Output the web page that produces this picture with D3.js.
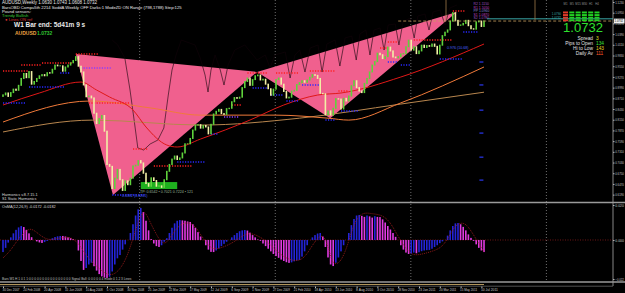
<!DOCTYPE html>
<html lang="en">
<head>
<meta charset="UTF-8">
<script src="https://d3js.org/d3.v7.min.js"></script>
<style>
  body { margin: 0; background: #000; overflow: hidden; }
  text { font-family: Arial, "Liberation Sans", sans-serif; }
</style>
</head>
<body>
<svg id="chart" width="625" height="293"></svg>
<script>
// AUDUSD weekly, values
const startWeek = new Date(2007, 11, 30);
const firstOpen = 0.8760;
const closes = [
  0.8800, 0.8850, 0.8760, 0.8860, 0.8950, 0.8920, 0.9050, 0.9230, 0.9360, 0.9250,
  0.9410, 0.9080, 0.9150, 0.9230, 0.9300, 0.9330, 0.9300, 0.9380, 0.9370, 0.9470,
  0.9580, 0.9560, 0.9560, 0.9420, 0.9530, 0.9580, 0.9640, 0.9700, 0.9800, 0.9550,
  0.9400, 0.9060, 0.8750, 0.8770, 0.8720, 0.8320, 0.8050, 0.8180, 0.8260, 0.7850,
  0.6980, 0.6930, 0.6350, 0.6620, 0.6850, 0.6580, 0.6300, 0.6550, 0.6450, 0.6620,
  0.6940, 0.6960, 0.7080, 0.7020, 0.6750, 0.6480, 0.6410, 0.6630, 0.6560, 0.6410,
  0.6420, 0.6380, 0.6580, 0.6800, 0.6980, 0.7120, 0.7200, 0.7110, 0.7150, 0.7280,
  0.7520, 0.7520, 0.7660, 0.7880, 0.8010, 0.8020, 0.7930, 0.8000, 0.7960, 0.7780,
  0.8030, 0.8300, 0.8370, 0.8420, 0.8310, 0.8290, 0.8440, 0.8450, 0.8620, 0.8730,
  0.8710, 0.8740, 0.8990, 0.9150, 0.9240, 0.9050, 0.9200, 0.9300, 0.9320, 0.9190,
  0.9210, 0.9080, 0.8960, 0.8790, 0.8950, 0.9200, 0.9240, 0.9080, 0.8890, 0.8720,
  0.8740, 0.8900, 0.8920, 0.9070, 0.9120, 0.9170, 0.9130, 0.9190, 0.9260, 0.9330,
  0.9310, 0.9230, 0.8840, 0.8830, 0.8280, 0.8380, 0.8270, 0.8450, 0.8700, 0.8690,
  0.8430, 0.8710, 0.8640, 0.8770, 0.9040, 0.9170, 0.8990, 0.8900, 0.8860, 0.9100,
  0.9230, 0.9400, 0.9580, 0.9670, 0.9890, 0.9850, 0.9750, 0.9800, 1.0050, 0.9950,
  0.9790, 0.9770, 0.9800, 0.9870, 0.9880, 1.0060, 1.0230, 0.9970, 1.0060, 0.9880,
  0.9950, 1.0100, 1.0040, 1.0090, 1.0070, 1.0130, 1.0070, 0.9870, 1.0100, 1.0350,
  1.0440, 1.0500, 1.0730, 1.0950, 1.0750, 1.0620, 1.0630, 1.0670, 1.0750, 1.0610,
  1.0530, 1.0520, 1.0710, 1.0730, 1.0590, 1.0732
];

// OsMA histogram, in pips (1e-4)
const osma = [
  -69, -45, -15, 15, 38, 58, 72, 80, 74, 58,
  38, 16, 0, -8, -14, -17, -12, -5, 2, 10,
  17, 21, 23, 23, 20, 15, 10, 5, 0, -60,
  -120, -171, -160, -140, -130, -150, -175, -195, -208, -215,
  -217, -210, -180, -140, -105, -86, -55, -25, 0, 40,
  90, 140, 175, 183, 160, 110, 55, 5, -20, -35,
  -40, -30, -10, 10, 40, 70, 95, 110, 114, 112,
  110, 106, 103, 90, 70, 45, 20, 0, -30, -55,
  -68, -69, -60, -48, -35, -22, -10, 0, 15, 28,
  40, 50, 55, 57, 54, 42, 28, 15, 3, -5,
  -20, -35, -50, -65, -80, -92, -102, -112, -120, -127,
  -131, -128, -122, -117, -114, -95, -65, -30, 0, 15,
  28, 37, 40, 20, -40, -100, -140, -149, -130, -100,
  -65, -30, 0, 40, 85, 120, 140, 143, 138, 132,
  140, 135, 128, 136, 132, 131, 118, 100, 80, 60,
  40, 18, 0, -30, -55, -72, -80, -78, -72, -76,
  -70, -64, -60, -58, -57, -50, -40, -30, -18, -8,
  0, 25, 55, 80, 95, 97, 90, 75, 55, 32,
  12, -5, -25, -45, -60, -69
];

// signal line [week, pips]
const signalPts = [
  [0, -103], [3, -60], [6, 10], [9, 55], [11, 68], [14, 30], [17, 0], [20, 5], [24, 18], [27, 12],
  [30, -40], [33, -110], [36, -150], [39, -190], [42, -205], [45, -170], [48, -90], [51, 60], [54, 185],
  [56, 120], [59, 29], [62, -40], [65, 30], [68, 90], [71, 103], [74, 80], [76, 29], [79, -30], [81, -57],
  [85, -40], [89, -11], [93, 35], [96, 40], [101, 0], [105, -60], [109, -109], [114, -126], [117, -80],
  [119, -29], [122, 30], [124, 15], [126, -90], [127, -143], [130, -131], [133, -10], [135, 97], [138, 160],
  [142, 150], [146, 143], [149, 100], [151, 46], [154, -30], [157, -86], [160, -85], [163, -74], [166, -60],
  [169, -40], [172, 30], [174, 86], [177, 103], [179, 75], [181, 29], [183, -20], [185, -69]
];

// moving averages [week, price]
const redMA = [[0, 0.8535], [14, 0.8849], [30, 0.9136], [36, 0.8927], [41, 0.8744], [50, 0.8404], [55, 0.7959],
  [63, 0.7488], [67, 0.7436], [76, 0.7645], [95, 0.8142], [108, 0.8535], [121, 0.8796], [130, 0.8849], [153, 0.9267], [185, 1.0131]];
const orangeMA = [[0, 0.809], [33.5, 0.864], [56.5, 0.846], [76, 0.827], [105, 0.827], [125, 0.819], [133, 0.814], [153, 0.859], [185, 0.953]];
const tanMA = [[0, 0.783], [34.6, 0.814], [76, 0.801], [114, 0.819], [153, 0.856], [185, 0.887]];

// harmonic patterns, vertices [week, price]
const patterns = [
  [[28, 0.987], [42.3, 0.618], [97.7, 0.940]],
  [[97.7, 0.940], [125.8, 0.819], [174.6, 1.097]]
];

// dark oscillator line, only visible over the patterns [week, price]
const darkLine = [
  [42, 1.0236], [44.2, 1.0105], [46.9, 0.9765], [48.8, 0.8927], [50.4, 0.8142], [51.9, 0.7409], [54.2, 0.7357],
  [56.5, 0.7514], [59.6, 0.7619], [61.9, 0.7933], [63.5, 0.8796], [65, 0.9450], [66.5, 0.9843], [68.5, 1.0236],
  [73.8, 1.0105], [75.8, 0.9765], [77.7, 0.9320], [78.8, 0.8875], [80, 0.9450], [81.5, 0.9843], [83.5, 0.9450],
  [85, 0.9058], [86.5, 0.9581], [89.2, 0.9974], [93, 1.0105], [97.7, 0.9712], [100.8, 0.9843], [102.7, 0.9503],
  [104.6, 0.9843], [108.5, 0.9922], [110.4, 0.9241], [112.3, 0.9843], [114.2, 0.9974], [116.2, 0.9398],
  [118.1, 1.0026], [121.2, 1.0105], [122.7, 0.9398], [124.6, 1.0131], [127.7, 1.0236], [129.6, 0.9555],
  [131.5, 1.0288], [134.2, 1.0340], [135.8, 0.9712], [137.3, 1.0393], [139.6, 1.0497], [141.2, 0.9843],
  [142.7, 1.0497], [145, 1.0550], [146.5, 0.9974], [148.1, 1.0628], [150.8, 1.0654], [152.3, 1.0105],
  [153.8, 1.0707], [156.5, 1.0811], [158.1, 1.0288], [159.6, 1.0864], [162.3, 1.0916], [163.8, 1.0497],
  [165.4, 1.0968], [168.1, 1.1021], [170, 1.0628], [171.9, 1.1073], [174.6, 1.1151]
];

// dotted levels [fromWeek, toWeek, price]
const resistLevels = [[0, 10, 0.9424], [7, 15, 0.9581], [15, 27, 0.9634], [28, 37, 0.9869], [33, 49, 0.8587],
  [50, 56, 0.7383], [58, 73, 0.6938], [88, 92, 0.8534], [94, 102, 0.9372], [105, 114, 0.9372],
  [118, 128, 0.9424], [129, 133, 0.8901], [145, 148, 1.0026], [148, 152, 1.0183], [158, 173, 1.0235], [173, 178, 1.0994]];
const supportLevels = [[0, 9, 0.8587], [10, 24, 0.9005], [22, 26, 0.9372], [42, 55, 0.6179], [67, 78, 0.7043],
  [80, 83, 0.7775], [96, 102, 0.8979], [103, 108, 0.8796], [109, 114, 0.8639], [115, 122, 0.9058],
  [124, 128, 0.8142], [130, 137, 0.8377], [148, 152, 0.9660], [153, 157, 0.9581], [168, 177, 0.9738], [177, 183, 1.0445]];
const violetLevels = [[30, 42, 0.9503], [85, 91, 0.8220]];
const fibMarks = [0.966, 0.906, 0.840, 0.780, 0.717, 0.657];
const pivotTags = [["R2", 1.1150], ["R1", 1.1050], ["PP", 1.0960], ["S1", 1.0870], ["S2", 1.0780]];
const targetZone = { from: 53, to: 67, hi: 0.6519, lo: 0.6336 };

const priceTicks = [1.1230, 1.0950, 1.0670, 1.0390, 1.0110, 0.9830, 0.9550, 0.9270, 0.8990, 0.8710,
  0.8430, 0.8150, 0.7870, 0.7590, 0.7310, 0.7030, 0.6750, 0.6470, 0.6190];
const osmaTicks = [0.0200, 0, -0.0223];
const dateLabels = ["30 Dec 2007", "24 Feb 2008", "20 Apr 2008", "15 Jun 2008", "10 Aug 2008", "5 Oct 2008",
  "30 Nov 2008", "25 Jan 2009", "22 Mar 2009", "17 May 2009", "12 Jul 2009", "6 Sep 2009", "1 Nov 2009",
  "27 Dec 2009", "21 Feb 2010", "18 Apr 2010", "13 Jun 2010", "8 Aug 2010", "3 Oct 2010", "28 Nov 2010",
  "23 Jan 2011", "20 Mar 2011", "15 May 2011", "10 Jul 2011"];
const lastPrice = 1.0732;
const infoLabels = ["Spread", "Pips to Open", "Hi to Low", "Daily Av"];
const infoValues = ["3", "134", "143", "111"];
const signalHeads = ["M1", "M5", "M15", "M30", "H1", "H4"];
const signalRows = [
  ["dn", "up", "up", "up", "up", "up"],
  ["dn", "up", "up", "up", "up", "up"],
  ["dn", "up", "up", "up", "up", "up"],
  ["dn", "up", "up", "up", "up", "up"]
];

// ---- layout ----
const W = 625, H = 293;
const plotRight = 613;
const mainTop = 2, mainBottom = 201.9;
const subTop = 205, subBottom = 279;

const svg = d3.select("#chart");
svg.append("rect").attr("width", W).attr("height", H).attr("fill", "#000");

const parseDate = d3.timeParse("%-d %b %Y");
const weekDate = w => d3.timeDay.offset(startWeek, Math.round(w * 7));
const x = d3.scaleTime()
  .domain([startWeek, weekDate(184)])
  .range([3, 3 + 184 * 2.6]);
const xw = w => x(weekDate(w));
const y = d3.scaleLinear().domain([0.6000, 1.1230]).range([mainBottom, mainTop]);
const yo = d3.scaleLinear().domain([-0.0223, 0.0200]).range([subBottom, subTop]);

// yearly separators
const years = d3.timeYear.range(new Date(2008, 6, 1), new Date(2012, 6, 1));
svg.append("g").selectAll("line").data(years).join("line")
  .attr("x1", d => x(d)).attr("x2", d => x(d))
  .attr("y1", 0).attr("y2", 282)
  .attr("stroke", "#8a8a8a").attr("stroke-width", 0.8).attr("stroke-dasharray", "1,2");

// harmonic triangles
svg.append("g").selectAll("path").data(patterns).join("path")
  .attr("d", d => "M" + d.map(p => [xw(p[0]), y(p[1])].join(",")).join("L") + "Z")
  .attr("fill", "#f0608e");

svg.append("path")
  .attr("d", d3.line().x(d => xw(d[0])).y(d => y(d[1]))(darkLine))
  .attr("fill", "none").attr("stroke", "#12040a").attr("stroke-opacity", 0.75).attr("stroke-width", 0.8);

// moving averages
const maLine = d3.line().x(d => xw(d[0])).y(d => y(d[1])).curve(d3.curveMonotoneX);
[[tanMA, "#b8864e"], [orangeMA, "#f07a3a"], [redMA, "#e01818"]].forEach(([pts, c]) => {
  svg.append("path").attr("d", maLine(pts)).attr("fill", "none").attr("stroke", c).attr("stroke-width", 1);
});

// dotted levels
function drawLevels(levels, color) {
  svg.append("g").selectAll("line").data(levels).join("line")
    .attr("x1", d => xw(d[0])).attr("x2", d => xw(d[1]))
    .attr("y1", d => y(d[2])).attr("y2", d => y(d[2]))
    .attr("stroke", color).attr("stroke-width", 1.6).attr("stroke-dasharray", "1.2,1.4");
}
drawLevels(resistLevels, "#ff2020");
drawLevels(supportLevels, "#2828ff");
drawLevels(violetLevels, "#8a3cff");

svg.append("g").selectAll("line").data(fibMarks).join("line")
  .attr("x1", xw(184) - 2).attr("x2", xw(184) + 2)
  .attr("y1", d => y(d)).attr("y2", d => y(d))
  .attr("stroke", "#2430d0").attr("stroke-width", 1.4);

svg.append("g").selectAll("text").data(pivotTags).join("text")
  .attr("x", xw(181)).attr("y", d => y(d[1]))
  .style("font-size", "3.4px")
  .attr("fill", (d, i) => ["#a050c0", "#c040c0", "#8080d0", "#c040c0", "#a050c0"][i])
  .text(d => d[0] + " " + d3.format(".4f")(d[1]));

// target zone
svg.append("rect")
  .attr("x", xw(targetZone.from)).attr("y", y(targetZone.hi))
  .attr("width", xw(targetZone.to) - xw(targetZone.from))
  .attr("height", y(targetZone.lo) - y(targetZone.hi))
  .attr("fill", "#1eb01e");

// price bars
const bars = closes.map((c, i) => ({ w: i, o: i === 0 ? firstOpen : closes[i - 1], c }));
svg.append("g").selectAll("rect").data(bars).join("rect")
  .attr("x", d => xw(d.w) - 0.8)
  .attr("width", 1.6)
  .attr("y", d => y(Math.max(d.o, d.c)) - 0.5)
  .attr("height", d => Math.abs(y(d.o) - y(d.c)) + 1)
  .attr("fill", d => d.c >= d.o ? "#5fd23c" : "#f2efa6");

// current price lines
svg.append("line").attr("x1", 487).attr("x2", plotRight).attr("y1", y(1.0790)).attr("y2", y(1.0790))
  .attr("stroke", "#3aa6a6").attr("stroke-width", 1);
svg.append("line").attr("x1", xw(152)).attr("x2", plotRight).attr("y1", y(lastPrice)).attr("y2", y(lastPrice))
  .attr("stroke", "#c8a060").attr("stroke-width", 0.8).attr("stroke-dasharray", "3,2");
[446, 535].forEach(px => {
  svg.append("line").attr("x1", px).attr("x2", px).attr("y1", 0).attr("y2", 20)
    .attr("stroke", "#a07a4a").attr("stroke-width", 0.8);
});

// ---- texts, top left ----
const tl = svg.append("g").attr("fill", "#e8e8e8");
tl.append("text").attr("x", 2).attr("y", 4).style("font-size", "4.5px")
  .text("AUDUSD,Weekly  1.0630 1.0743 1.0608 1.0732");
tl.append("text").attr("x", 2).attr("y", 8.5).style("font-size", "4.2px")
  .text("BarsOBD Compu5th 2214 SoddA Weekly OFF Darks:1 ModeZD ON Range (798,1788) Step:125");
tl.append("text").attr("x", 2).attr("y", 12.5).style("font-size", "4.2px").text("Pound sensors:");
tl.append("text").attr("x", 2).attr("y", 16.5).style("font-size", "4.2px").attr("fill", "#38c838").text("Trendy Bullish");
tl.append("text").attr("x", 5).attr("y", 20.5).style("font-size", "4.2px").attr("fill", "#d83030").text("\u25cf Lines ON ref");
tl.append("text").attr("x", 14).attr("y", 27).style("font-size", "6.5px").style("font-weight", "bold")
  .text("W1 Bar end: 5d41m 9 s");
tl.append("text").attr("x", 15).attr("y", 35).style("font-size", "5px").style("font-weight", "bold")
  .attr("fill", "#e8a040").text("AUDUSD");
tl.append("text").attr("x", 37).attr("y", 35).style("font-size", "5px").style("font-weight", "bold")
  .attr("fill", "#30c030").text(d3.format(".4f")(lastPrice));

svg.append("text").attr("x", 140).attr("y", 192.5).style("font-size", "3.6px").attr("fill", "#9ab89a")
  .text("TP: 0.6542 \u2022 0.7021 0.7224 \u2022 121");
svg.append("text").attr("x", 122).attr("y", 196.5).style("font-size", "3.6px").attr("fill", "#4a60ff")
  .text("0.6382 (0.6261)");
svg.append("text").attr("x", 447).attr("y", 49).style("font-size", "3.6px").attr("fill", "#4a60ff")
  .text("0.976 (10.68)");
svg.append("text").attr("x", 2).attr("y", 196).style("font-size", "3.8px").attr("fill", "#d8d8d8")
  .text("Harmonics v.8.7.15.1");
svg.append("text").attr("x", 2).attr("y", 200).style("font-size", "3.8px").attr("fill", "#d8d8d8")
  .text("S1 Static Harmonics");

// ---- info panel ----
svg.append("g").selectAll("text").data(signalHeads).join("text")
  .attr("x", (d, i) => 565.5 + i * 6.3).attr("y", 5).attr("text-anchor", "middle")
  .style("font-size", "2.8px").attr("fill", "#909090").text(d => d);
signalRows.forEach((row, r) => {
  svg.append("g").selectAll("rect").data(row).join("rect")
    .attr("x", (d, i) => 563 + i * 6.3).attr("y", 11.5 + r * 2.6)
    .attr("width", 5).attr("height", 1.9)
    .attr("fill", d => d === "up" ? "#22d022" : "#e03a2a");
});
svg.append("text").attr("x", 561).attr("y", 15).attr("text-anchor", "end").style("font-size", "3px")
  .attr("fill", "#3aa6a6").text("1.0790");
svg.append("text").attr("x", 561).attr("y", 19).attr("text-anchor", "end").style("font-size", "3px")
  .attr("fill", "#3aa6a6").text("1.0732");
svg.append("text").attr("x", 583).attr("y", 32).attr("text-anchor", "middle")
  .style("font-size", "13px").attr("fill", "#2ee02e").text(d3.format(".4f")(lastPrice));
const valColors = ["#e8e020", "#38e038", "#e8d020", "#ff5a2a"];
infoLabels.forEach((lab, i) => {
  svg.append("text").attr("x", 593).attr("y", 39.5 + i * 5).attr("text-anchor", "end")
    .style("font-size", "4.8px").attr("fill", "#e0e0e0").text(lab);
  svg.append("text").attr("x", 596).attr("y", 39.5 + i * 5)
    .style("font-size", "4.8px").attr("fill", valColors[i]).text(infoValues[i]);
});

// ---- right price axis ----
function styleAxis(g) {
  g.select(".domain").remove();
  g.selectAll("line").attr("stroke", "#bbb");
  g.selectAll("text").style("font-size", "3.5px").attr("fill", "#c8c8c8")
    .attr("textLength", 8.5).attr("lengthAdjust", "spacingAndGlyphs");
}
svg.append("g").attr("transform", `translate(${plotRight},0)`)
  .call(d3.axisRight(y).tickValues(priceTicks).tickFormat(d3.format(".4f")).tickSize(1.5).tickPadding(0.8))
  .call(styleAxis);

svg.append("rect").attr("x", plotRight + 1).attr("y", y(lastPrice) - 2.4).attr("width", 10.5).attr("height", 4.8)
  .attr("fill", "#f0f0f0");
svg.append("text").attr("x", plotRight + 1.6).attr("y", y(lastPrice) + 1.3).style("font-size", "3.5px")
  .attr("textLength", 8.5).attr("lengthAdjust", "spacingAndGlyphs")
  .attr("fill", "#000").text(d3.format(".4f")(lastPrice));

// ---- OsMA panel ----
svg.append("line").attr("x1", 0).attr("x2", plotRight).attr("y1", yo(0)).attr("y2", yo(0))
  .attr("stroke", "#8a1a1a").attr("stroke-width", 0.8).attr("stroke-dasharray", "1,1.5");
const hist = osma.map((v, i) => ({ w: i, v: v / 10000, up: i === 0 ? true : v > osma[i - 1] }));
svg.append("g").selectAll("rect").data(hist).join("rect")
  .attr("x", d => xw(d.w) - 0.8).attr("width", 1.6)
  .attr("y", d => Math.min(yo(0), yo(d.v)))
  .attr("height", d => Math.abs(yo(d.v) - yo(0)))
  .attr("fill", d => d.up ? "#2424d8" : "#e03ae0");
svg.append("path")
  .attr("d", d3.line().x(d => xw(d[0])).y(d => yo(d[1] / 10000)).curve(d3.curveBasis)(signalPts))
  .attr("fill", "none").attr("stroke", "#b02020").attr("stroke-width", 0.8).attr("stroke-dasharray", "1,1");
svg.append("text").attr("x", 2).attr("y", 207.5).style("font-size", "3.8px").attr("fill", "#d8d8d8")
  .text("OsMA(12,26,9) -0.0172 -0.0182");

svg.append("g").attr("transform", `translate(${plotRight},0)`)
  .call(d3.axisRight(yo).tickValues(osmaTicks).tickFormat(d3.format(".3f")).tickSize(1.5).tickPadding(0.8))
  .call(styleAxis);

// ---- frame lines ----
svg.append("line").attr("x1", plotRight).attr("x2", plotRight).attr("y1", 0).attr("y2", 286)
  .attr("stroke", "#a8a8a8").attr("stroke-width", 0.8);
[202.5, 282].forEach(py => {
  svg.append("line").attr("x1", 0).attr("x2", W).attr("y1", py).attr("y2", py)
    .attr("stroke", "#9a9a9a").attr("stroke-width", 1.6);
});
svg.append("line").attr("x1", 0).attr("x2", xw(185)).attr("y1", 284.5).attr("y2", 284.5)
  .attr("stroke", "#b0945a").attr("stroke-width", 1);
svg.append("line").attr("x1", 0).attr("x2", plotRight).attr("y1", 286.2).attr("y2", 286.2)
  .attr("stroke", "#8a8a8a").attr("stroke-width", 0.6);
svg.append("text").attr("x", 2).attr("y", 280).style("font-size", "3.2px").attr("fill", "#c0c0c0")
  .text("Bars W1 H 1 0 1 1:0 0 0 0 0 0 0 0 0 0 0 0 0 0 0 0 Signal Bull: 0 0 0 0 0 4 mode 0 1 2 3 Lines");

// ---- date axis ----
const xAxis = svg.append("g").attr("transform", "translate(0,286.5)")
  .call(d3.axisBottom(x).tickValues(dateLabels.map(parseDate)).tickFormat(d3.timeFormat("%-d %b %Y"))
    .tickSize(1.5).tickPadding(0.8));
xAxis.select(".domain").remove();
xAxis.selectAll("line").attr("stroke", "#bbb");
xAxis.selectAll("text").attr("text-anchor", "start").attr("dx", "-1px")
  .style("font-size", "3.5px").attr("fill", "#c8c8c8")
  .attr("textLength", 17).attr("lengthAdjust", "spacingAndGlyphs");
</script>
</body>
</html>
